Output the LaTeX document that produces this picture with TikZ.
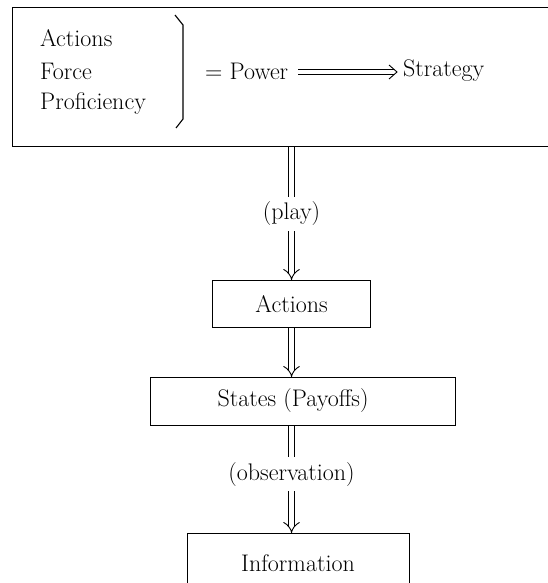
\documentclass[tikz,border=0pt]{standalone}
\usetikzlibrary{arrows.meta}
\begin{document}
\begin{tikzpicture}[x=1pt,y=-1pt,
  txt/.style={font=\fontsize{24}{28}\selectfont, inner sep=0pt},
  box/.style={draw, line width=1.1pt, inner sep=0pt},
  dbl/.style={double, double distance=5pt, line width=0.9pt, -{Implies[length=8pt, width=14pt]}},
  lab/.style={txt, fill=white, inner xsep=2pt, inner ysep=5pt},
  thin/.style={line width=0.9pt}]
\useasboundingbox (0,0) rectangle (547,583);
% top box
\node[box, minimum width=560pt, minimum height=139pt, anchor=north west] (top) at (12,7) {};
\node[txt, anchor=west] (a1) at (40,38) {Actions};
\node[txt, anchor=west] (a2) at (40,71) {Force};
\node[txt, anchor=west] (a3) at (40,104) {Proficiency};
\draw[line width=1.1pt] (175,15) -- (183,25) -- (183,119) -- (176,128);
\node[txt, anchor=west] (pow) at (205,71) {= Power};
\node[txt, anchor=west] (strat) at (403,71) {Strategy};
\coordinate (ps) at ([xshift=10pt, yshift=-1pt]pow.east);
\coordinate (pe) at ([xshift=-6pt, yshift=-1pt]strat.west);
\draw[thin] ([yshift=-2.9pt]ps) -- ([yshift=-2.9pt, xshift=-3.5pt]pe);
\draw[thin] ([yshift=2.9pt]ps) -- ([yshift=2.9pt, xshift=-3.5pt]pe);
\draw[thin, line join=miter] ([xshift=-8pt, yshift=-7pt]pe) -- (pe) -- ([xshift=-8pt, yshift=7pt]pe);
% boxes
\node[box, minimum width=158pt, minimum height=47pt, anchor=north west] (act) at (212,280) {};
\node[txt] (actt) at (act.center) {Actions};
\node[box, minimum width=305pt, minimum height=48pt, anchor=north west] (st) at (150,377) {};
\node[txt] (stt) at (293,401) {States (Payoffs)};
\node[box, minimum width=222pt, minimum height=70pt, anchor=north west] (inf) at (187,533) {};
\node[txt] (inft) at (298,563) {Information};
% connectors
\draw[dbl] (act.north |- top.south) -- node[lab] {(play)} (act.north);
\draw[dbl] (act.south) -- (act.south |- st.north);
\draw[dbl] (act.south |- st.south) -- node[lab, pos=0.45] {(observation)} (act.south |- inf.north);
\end{tikzpicture}
\end{document}
